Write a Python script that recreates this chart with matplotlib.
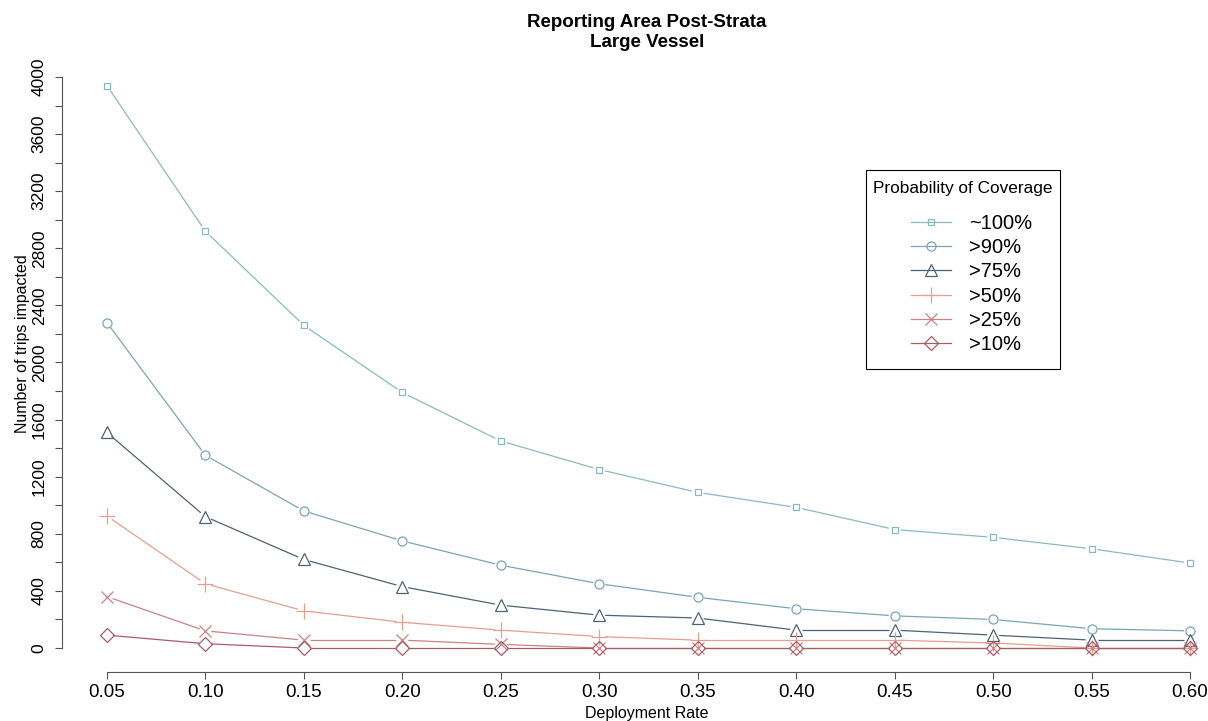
import numpy as np
import matplotlib
matplotlib.use("Agg")
import matplotlib.pyplot as plt
from matplotlib.patches import Rectangle
from matplotlib.lines import Line2D

plt.rcParams['font.family'] = ['Liberation Sans', 'DejaVu Sans']

# taux de déploiement et nombre de voyages impactés
deployment = [0.05, 0.10, 0.15, 0.20, 0.25, 0.30, 0.35, 0.40, 0.45, 0.50, 0.55, 0.60]
p100 = [3940, 2920, 2260, 1790, 1450, 1250, 1090, 985, 830, 775, 695, 595]
p90 = [2280, 1350, 960, 750, 580, 450, 355, 275, 225, 200, 135, 120]
p75 = [1510, 920, 620, 430, 300, 230, 210, 125, 125, 90, 55, 55]
p50 = [925, 450, 260, 180, 125, 80, 55, 55, 55, 35, 0, 0]
p25 = [360, 120, 55, 55, 25, 0, 0, 0, 0, 0, 0, 0]
p10 = [90, 30, 0, 0, 0, 0, 0, 0, 0, 0, 0, 0]

labels = ['~100%', '>90%', '>75%', '>50%', '>25%', '>10%']
series = [p100, p90, p75, p50, p25, p10]
colors = ['#8bb9c2', '#7aa5b5', '#4e6274', '#e3a08f', '#c98386', '#a65d68']
markers = ['s', 'o', '^', '+', 'x', 'D']
msizes = [5, 6.5, 8.5, 11, 8, 7]

W, H = 1208, 721
fig = plt.figure(figsize=(W / 100, H / 100), dpi=100)
ax = fig.add_axes([0.0513, 0.068, 0.9487, 0.8446])
ax.set_xlim(0.0272, 0.6091)
ax.set_ylim(-168, 4098)

# type "b" de R : segments qui s'arrêtent avant les points
gap = 6.0  # pixels
handles = []
for y, lab, c, m, ms in zip(series, labels, colors, markers, msizes):
    pts = ax.transData.transform(np.column_stack([deployment, y]))
    for p0, p1 in zip(pts[:-1], pts[1:]):
        d = p1 - p0
        n = np.hypot(*d)
        if n <= 2 * gap:
            continue
        a = p0 + d / n * gap
        b = p1 - d / n * gap
        seg = ax.transData.inverted().transform(np.array([a, b]))
        ax.plot(seg[:, 0], seg[:, 1], color=c, linewidth=0.9, solid_capstyle='butt')
    ax.plot(deployment, y, linestyle='none', marker=m, markersize=ms,
            markerfacecolor='none', markeredgecolor=c, markeredgewidth=0.9)
    handles.append(Line2D([], [], color=c, linewidth=0.9, marker=m, markersize=ms,
                          markerfacecolor='none', markeredgecolor=c,
                          markeredgewidth=0.9, label=lab))

# axes style R : pas de boîte, axes limités aux graduations
for s in ['top', 'right']:
    ax.spines[s].set_visible(False)
ax.spines['left'].set_bounds(0, 4000)
ax.spines['bottom'].set_bounds(0.05, 0.60)
ax.spines['left'].set_color('#555555')
ax.spines['bottom'].set_color('#555555')

ax.set_xticks(deployment)
ax.set_xticklabels(['%.2f' % d for d in deployment], fontsize=13.5)
yt = np.arange(0, 4001, 200)
ax.set_yticks(yt)
ax.set_yticklabels([str(v) if v % 400 == 0 else '' for v in yt],
                   fontsize=12.5, rotation=90, va='center')
ax.tick_params(axis='both', direction='out', length=5, color='#555555')
ax.tick_params(axis='y', pad=6)
ax.tick_params(axis='x', pad=4)

fig.text(0.5356, 0.955, 'Reporting Area Post-Strata\nLarge Vessel',
         ha='center', va='center', fontsize=13.5, fontweight='bold', linespacing=1.25)
fig.text(0.5356, 0.011, 'Deployment Rate', ha='center', va='center', fontsize=11.5)
fig.text(0.019, 0.523, 'Number of trips impacted', ha='center', va='center',
         rotation=90, fontsize=11.5)

# légende : cadre et titre dessinés à part, comme dans R
fig.patches.append(Rectangle((866 / W, 1 - 369 / H), 194 / W, 199 / H,
                             transform=fig.transFigure, fill=False,
                             edgecolor='black', linewidth=0.8))
fig.text(962.5 / W, 1 - 188 / H, 'Probability of Coverage', ha='center', va='center',
         fontsize=12.4)
leg = ax.legend(handles=handles, loc='upper left', bbox_to_anchor=(911 / W, 1 - 214 / H),
                bbox_transform=fig.transFigure, fontsize=14.5, frameon=False,
                handlelength=2.0, handletextpad=0.9, labelspacing=0.26,
                borderpad=0, borderaxespad=0)

plt.savefig('out.png', dpi=100)
